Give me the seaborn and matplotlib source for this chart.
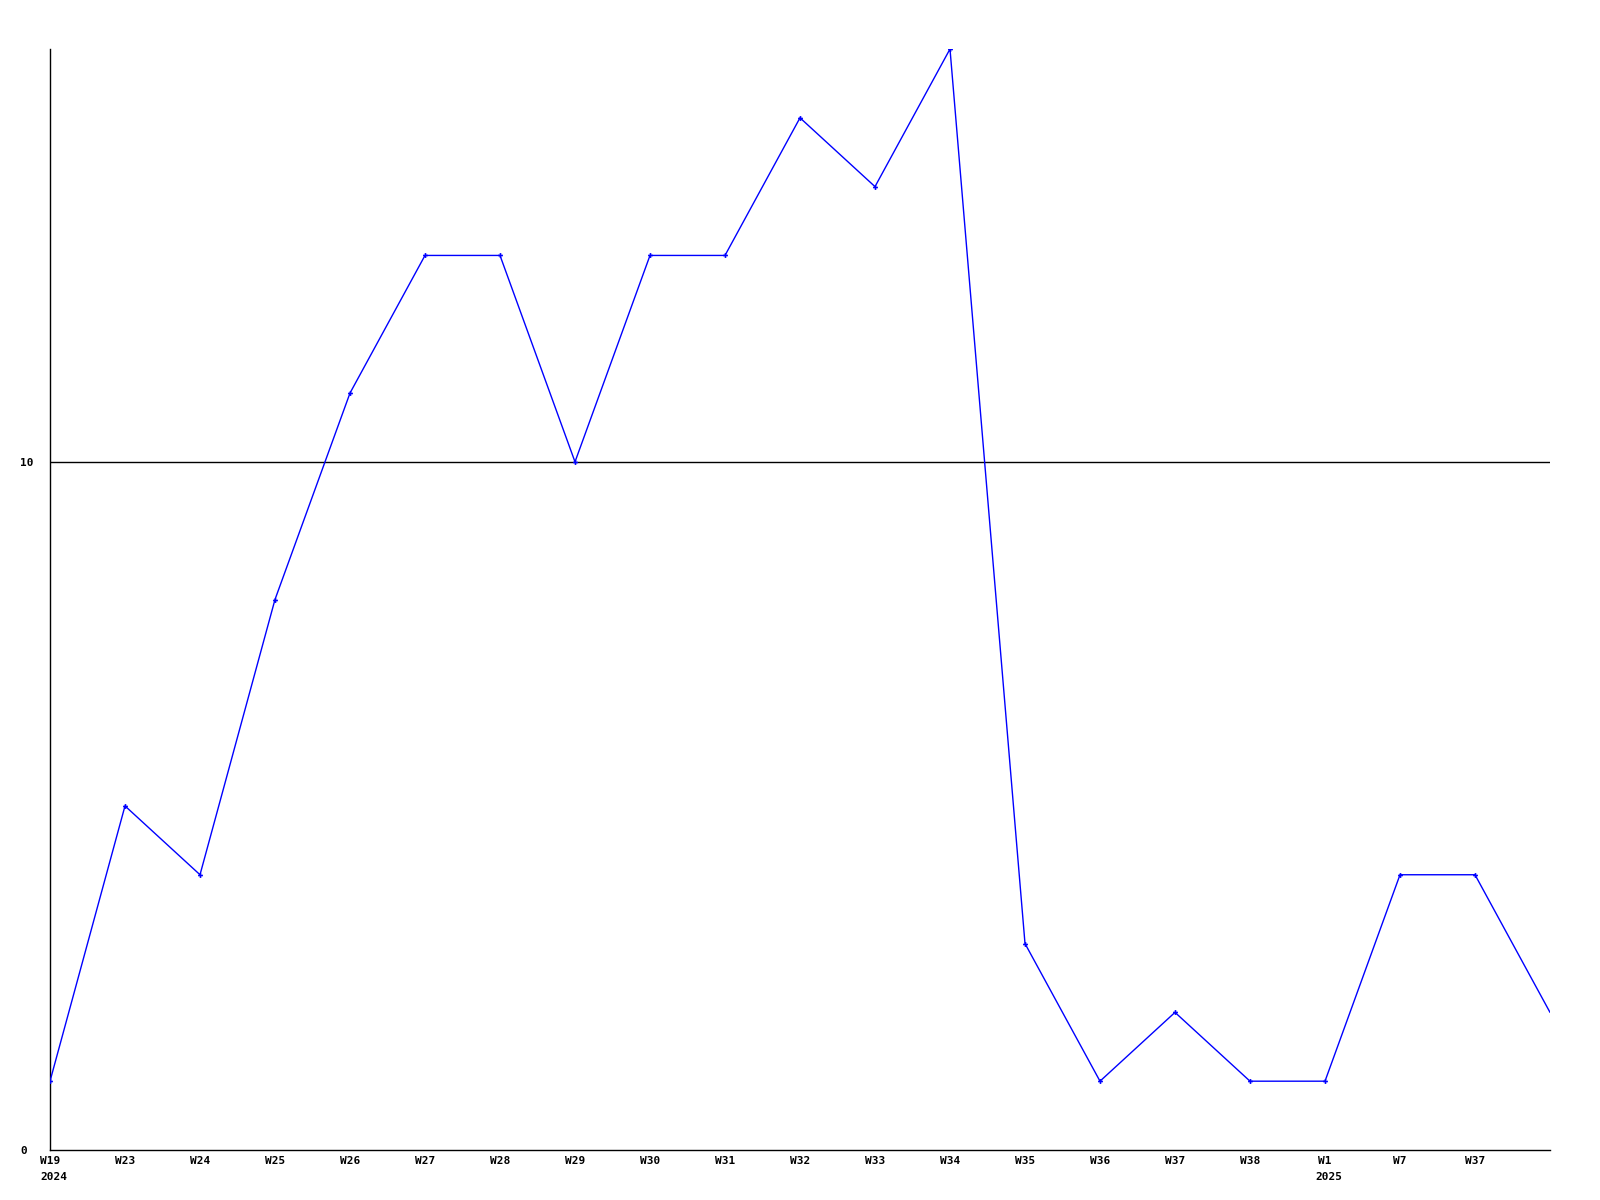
import matplotlib
matplotlib.use("Agg")
import matplotlib.pyplot as plt
import matplotlib.transforms as mtransforms
import seaborn as sns
import pandas as pd

week_labels = ["W19", "W23", "W24", "W25", "W26", "W27", "W28", "W29", "W30", "W31",
               "W32", "W33", "W34", "W35", "W36", "W37", "W38", "W1", "W7", "W37", ""]
year_labels = {0: "2024", 17: "2025"}
values = [1, 5, 4, 8, 11, 13, 13, 10, 13, 13, 15, 14, 16, 3, 1, 2, 1, 1, 4, 4, 2]
y_ticks = [0, 10]

df = pd.DataFrame({"idx": list(range(len(values))), "value": values})

sns.set_style("white")
plt.rcParams["font.family"] = ["DejaVu Sans Mono"]
plt.rcParams["text.color"] = "black"
plt.rcParams["xtick.color"] = "black"
plt.rcParams["ytick.color"] = "black"

fig = plt.figure(figsize=(16, 12), dpi=100)
ax = fig.add_axes([50 / 1600, 1 - 1150 / 1200, 1500 / 1600, 1101 / 1200])

ax.axhline(10, color="black", lw=1.0, zorder=1)
sns.lineplot(data=df, x="idx", y="value", ax=ax, color="#0000ff", lw=1.0,
             marker="P", markersize=3.5, markeredgewidth=0,
             markevery=list(range(len(values) - 1)), zorder=3)

ax.set_xlim(0, len(values) - 1)
ax.set_ylim(0, 16)
ax.set_xticks(range(len(values)))
ax.set_xticklabels(week_labels, fontsize=8, fontweight="bold")
ax.set_yticks(y_ticks)
ax.set_yticklabels([str(t) for t in y_ticks], fontsize=8, fontweight="bold", ha="left")
ax.tick_params(axis="both", length=0, pad=4, labelcolor="black")
ax.tick_params(axis="y", pad=21.6)
ax.set_xlabel("")
ax.set_ylabel("")
for s in ["top", "right"]:
    ax.spines[s].set_visible(False)
for s in ["left", "bottom"]:
    ax.spines[s].set_color("black")
    ax.spines[s].set_linewidth(1.0)

trans = mtransforms.blended_transform_factory(ax.transData, ax.transAxes)
offset = mtransforms.ScaledTranslation(-10 / 100, -22 / 100, fig.dpi_scale_trans)
for i, yl in year_labels.items():
    ax.text(i, 0, yl, transform=trans + offset, ha="left", va="top",
            fontsize=8, fontweight="bold", color="black")

fig.savefig("out.png", dpi=100, facecolor="white")
